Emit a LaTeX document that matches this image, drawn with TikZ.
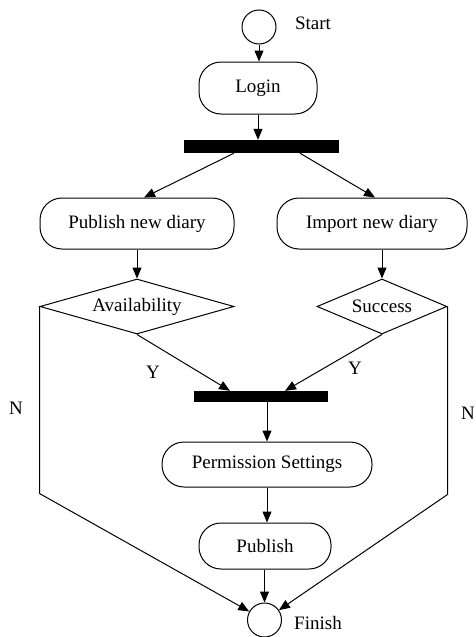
\documentclass[tikz,border=0pt]{standalone}
\usepackage{fontspec}
\setmainfont{Liberation Serif}
\usetikzlibrary{arrows.meta,shapes.geometric}
\begin{document}
\begin{tikzpicture}[x=1pt,y=-1pt,
  every node/.style={font=\fontsize{19}{22}\selectfont},
  act/.style={draw, line width=1pt, rounded corners=22pt, inner sep=0pt, align=center},
  bar/.style={fill=black, inner sep=0pt},
  dec/.style={draw, diamond, line width=1pt, inner sep=0pt},
  term/.style={draw, circle, line width=1pt, minimum size=34pt, inner sep=0pt},
  arr/.style={line width=1pt, -{Triangle[length=11pt,width=9pt]}},
  flow/.style={line width=1pt},
  lbl/.style={inner sep=0pt}]
\useasboundingbox (0,0) rectangle (475,637);

% activity nodes
\node[term] (start) at (259,27) {};
\node[lbl] (startlbl) at (313,23) {Start};
\node[act, minimum width=118pt, minimum height=52pt] (login) at (258,88) {Login};
\node[bar, minimum width=155pt, minimum height=13pt] (bar1) at (261,146.5) {};
\node[act, minimum width=194pt, minimum height=51pt] (pub) at (137,223.5) {Publish new diary};
\node[act, minimum width=190pt, minimum height=51pt] (imp) at (372,223.5) {Import new diary};
\node[dec, minimum width=194pt, minimum height=55pt, aspect=3.5] (avail) at (137,306.5) {Availability};
\node[dec, minimum width=130pt, minimum height=55pt, aspect=2.36] (succ) at (382,306.5) {Success};
\node[bar, minimum width=134pt, minimum height=11pt] (bar2) at (261,396.5) {};
\node[act, minimum width=210pt, minimum height=45pt] (perm) at (267,464.5) {Permission Settings};
\node[act, minimum width=132pt, minimum height=46pt] (publ) at (265,546) {Publish};
\node[term] (fin) at (264.5,620) {};
\node[lbl] (finlbl) at (318,623) {Finish};

% branch labels
\node[lbl] (yl) at (153,372) {Y};
\node[lbl] (yr) at (355,368) {Y};
\node[lbl] (nl) at (16,408) {N};
\node[lbl] (nr) at (468,413) {N};

% connectors
\draw[arr] (start.south) -- (start.south |- login.north);
\draw[arr] (login.south) -- (login.south |- bar1.north);
\draw[arr] ([xshift=-27pt]bar1.south) -- ([xshift=7pt]pub.north);
\draw[arr] ([xshift=39pt]bar1.south) -- ([xshift=3pt]imp.north);
\draw[arr] (pub.south) -- (avail.north);
\draw[arr] (succ.north |- imp.south) -- (succ.north);
\draw[arr] (avail.south) -- ([xshift=-31pt]bar2.north);
\draw[arr] (succ.south) -- ([xshift=24pt]bar2.north);
\draw[arr] (perm.north |- bar2.south) -- (perm.north);
\draw[arr] (perm.south) -- (perm.south |- publ.north);
\draw[arr] (fin.north |- publ.south) -- (fin.north);
\draw[arr] (avail.west) -- ++(0,187) -- (fin);
\draw[arr] (succ.east) -- ++(0,188) -- (fin);
\end{tikzpicture}
\end{document}
